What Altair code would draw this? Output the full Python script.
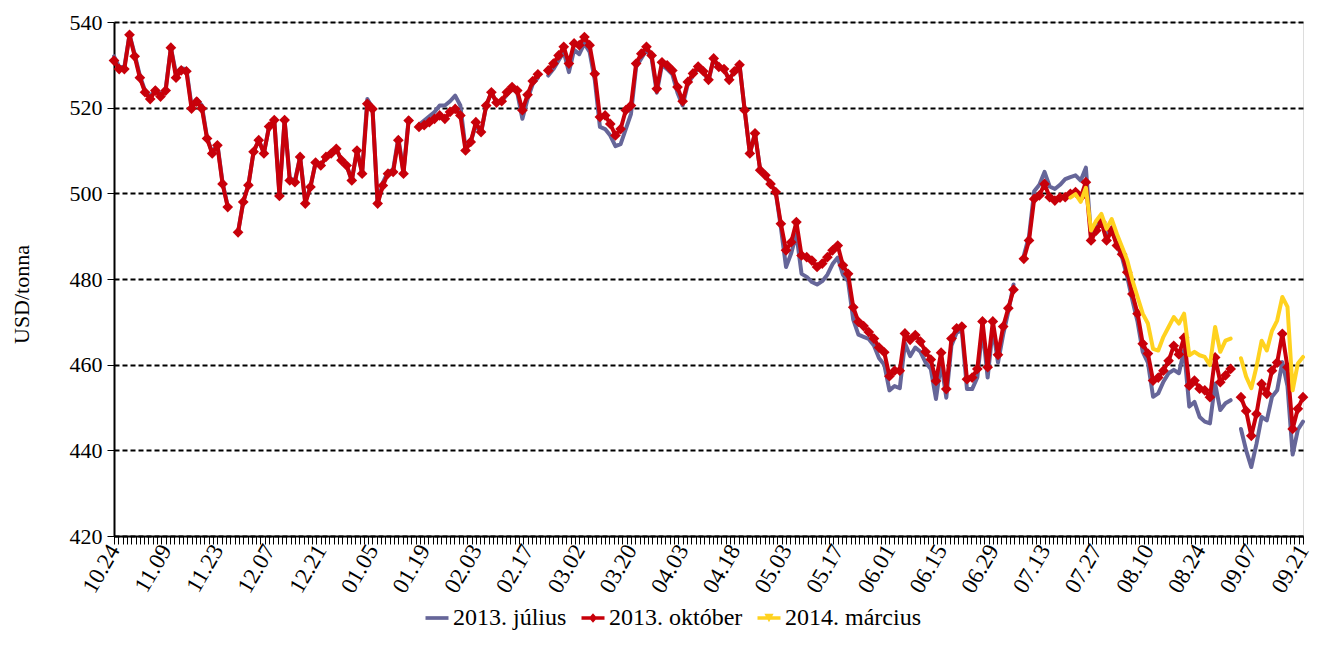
import altair as alt
import pandas as pd

tick_labels = ["10.24", "11.09", "11.23", "12.07", "12.21", "01.05", "01.19", "02.03",
               "02.17", "03.02", "03.20", "04.03", "04.18", "05.03", "05.17", "06.01",
               "06.15", "06.29", "07.13", "07.27", "08.10", "08.24", "09.07", "09.21"]
series_names = ["2013. július", "2013. október", "2014. március"]
series_colors = ["#666699", "#C8000A", "#FFD21F"]

julius = [
    532, 529.5, 529.5, 537, 532.5, 527.5, 524, 522.5, 524.5, 523,
    524.5, 534, 528, 529.2, 529, 520.5, 522, 520.5, 513, 509.5,
    511.5, 502.5, 497, None, 491, 498, 502, 509.7, 512.4, 509.5,
    515.6, 517.1, 500, 517.1, 503.5, 503, 508.5, 498, 501.5, 507.2,
    506.5, 508.5, 509.3, 510.4, 507.7, 506.5, 503, 510, 505, 522,
    520, 497.6, 502.5, 505, 505.5, 513, 505, 517.5, None, 516,
    517, 518, 519, 520.5, 520.5, 521.5, 522.8, 520.5, 510.5, 512,
    516, 514, 520.5, 523.6, 521.2, 521.5, 523, 524.5, 523.5, 517.4,
    522, 525.5, 527, None, 527.5, 529, 531, 533, 528.3, 533.5,
    532.5, 535, 533, 526.5, 515.5, 515, 513.5, 511, 511.5, 515,
    518.5, 529.5, 531.5, 533.5, 531.5, 523.5, 530, 529, 527.8, 523.5,
    520.5, 525.5, 527.5, 529.3, 528.3, 526.3, 531.3, 529.5, 529, 526.5,
    528.5, 530, 519.4, 509.3, 514, 505.4, 504.2, 502.2, 500.3, 492,
    482.8, 486, 490.5, 481.2, 480.5, 479.3, 478.7, 479.5, 481, 483.5,
    485, 481, 479.5, 470.5, 467, 466.5, 466, 464.5, 461.5, 460,
    454, 455, 454.5, 465, 462, 464, 463, 460.5, 459, 452,
    460.5, 452.3, 464.5, 467.5, 468, 454.3, 454.3, 457, 468.5, 457,
    468.5, 460.5, 467, 472.4, 478.7, None, 485.5, 490, 500.5, 502,
    505, 501.6, 501, 502, 503.3, 503.8, 504.2, 503, 506, 490,
    492, 494, 489.5, 492, 488, 485, 480.5, 475, 470, 463,
    460.5, 452.5, 453.3, 456, 458, 458.8, 458, 463.4, 450.2, 451.3,
    447.8, 446.7, 446.3, 455.6, 449.4, 451, 451.7, None, 445, 440,
    436.1, 441.5, 447.8, 447, 452.5, 454, 460.6, 455, 439, 444.8,
    446.7,
]

oktober = [
    531, 529, 529, 537, 532, 527, 523.6, 522, 524, 522.6,
    524, 534, 527, 528.7, 528.5, 519.8, 521.4, 519.8, 512.8, 509.3,
    511.2, 502.2, 496.8, None, 490.9, 498, 501.9, 509.7, 512.4, 509.3,
    515.6, 517.1, 499.4, 517.1, 503, 502.6, 508.5, 497.6, 501.5, 507.2,
    506.5, 508.5, 509.3, 510.4, 507.7, 506.5, 503, 510, 504.6, 520.9,
    519.7, 497.6, 501.8, 504.6, 505, 512.4, 504.6, 517, None, 515.5,
    515.9, 516.6, 517.4, 518.2, 517.4, 519, 519.7, 518.2, 510, 512,
    516.6, 514.3, 520.5, 523.6, 521.2, 521.5, 523.6, 524.8, 524, 519.4,
    523, 526.2, 527.8, None, 528.7, 530.3, 532.2, 534.2, 530.3, 535,
    534.6, 536.5, 534.6, 527.9, 517.8, 518.2, 516.2, 513.5, 515, 519.4,
    520.5, 530.3, 532.6, 534.2, 532.2, 524.4, 530.6, 529.9, 528.7, 524.8,
    521.5, 526, 528, 529.6, 528.5, 526.5, 531.5, 529.5, 529, 526.5,
    528.5, 530, 519.4, 509.3, 514, 505.4, 504.2, 502.2, 500.3, 492.9,
    486.7, 488.6, 493.3, 485.5, 485.1, 484.3, 482.8, 483.6, 485.1, 486.7,
    487.8, 483.2, 481.2, 473.4, 470, 469, 467.6, 466.1, 464, 462.9,
    457.3, 458.6, 458.6, 467.3, 465.8, 466.9, 465.4, 463, 461.2, 456.2,
    462.8, 454.3, 466.1, 468.5, 468.9, 456.6, 457, 459, 470.1, 459.4,
    470.1, 462.3, 468.9, 473.2, 477.5, None, 484.7, 489, 498.7, 499.5,
    502.2, 499.1, 498.3, 499, 499.1, 499.9, 500.3, 499.1, 502.6, 489,
    491.3, 493.3, 489, 491.3, 487.8, 485.8, 481.6, 476.5, 471.9, 464.9,
    462.6, 456.3, 457, 458.6, 460.9, 464.4, 462.4, 466.3, 455.1, 456.3,
    454.4, 454, 452.4, 461.7, 455.9, 457.5, 459, None, 452.4, 449.2,
    443.4, 448.5, 455.5, 453.2, 458.6, 460.5, 467.2, 459.4, 445, 449.7,
    452.4,
]

marcius = [None] * 185 + [
    499, 499.8, 498, 501.3, 491.3,
    493.6, 495.2, 491.7, 494, 490.5, 487.5, 484.4, 479.7, 475.8, 471.9,
    469.6, 463.7, 463.3, 466.5, 468.8, 471.1, 469.6, 471.9, 462.2, 463,
    462.2, 461.8, 459.9, 468.8, 463, 465.6, 466.1, None, 461.5, 457.2,
    454.5, 459.5, 465.6, 463.3, 467.9, 470.3, 475.8, 473.5, 454, 460.3,
    461.8,
]

N = len(oktober)
assert len(julius) == N and len(marcius) == N

rows = []
for name, vals in zip(series_names, [julius, oktober, marcius]):
    seg = 0
    gap = True
    for i, v in enumerate(vals):
        if v is None:
            gap = True
            continue
        if gap:
            seg += 1
            gap = False
        rows.append({"idx": i, "value": v, "series": name, "seg": f"{name}-{seg}"})
df = pd.DataFrame(rows)

FONT = "Liberation Serif"
label_js = "[" + ",".join("'" + s + "'" for s in tick_labels) + "]"
# minor tick marks: 12 per labelled interval of 10 data points
tick_values = [k * 10 / 12 for k in range((N - 1) * 12 // 10 + 1)]

x_enc = alt.X(
    "idx:Q",
    scale=alt.Scale(domain=[0, N - 1], nice=False, zero=False),
    axis=alt.Axis(
        values=tick_values,
        labelExpr=(f"round(datum.value * 1.2) % 12 === 0 ? "
                   f"{label_js}[round(datum.value * 1.2) / 12] : ''"),
        labelAngle=-60, labelAlign="right", labelBaseline="middle",
        labelFont=FONT, labelFontSize=23, labelColor="black",
        labelOverlap=False, labelFlush=False, labelPadding=2,
        tickSize=8, tickColor="black", tickWidth=1,
        domainColor="black", domainWidth=2, grid=False,
    ),
    title=None,
)
y_enc = alt.Y(
    "value:Q",
    scale=alt.Scale(domain=[420, 540], nice=False, zero=False),
    axis=alt.Axis(
        values=[420, 440, 460, 480, 500, 520, 540],
        grid=True, gridColor="black", gridDash=[5, 3], gridWidth=2,
        domainColor="black", domainWidth=2,
        tickColor="black", tickSize=7, tickWidth=1,
        labelFont=FONT, labelFontSize=22, labelColor="black", labelPadding=5,
        labelFlush=False,
        titleFont=FONT, titleFontSize=22, titleFontWeight="normal", titleColor="black",
        titleX=-93, titleY=272, titleBaseline="middle", titleAlign="center",
    ),
    title="USD/tonna",
)

base = alt.Chart(df)


def line_layer(name, color):
    return base.transform_filter(alt.datum.series == name).mark_line(
        color=color, strokeWidth=4, strokeJoin="round", strokeCap="round"
    ).encode(x=x_enc, y=y_enc, detail="seg:N")


purple_line = line_layer(series_names[0], series_colors[0])
red_line = line_layer(series_names[1], series_colors[1])
yellow_line = line_layer(series_names[2], series_colors[2])

red_points = base.transform_filter(alt.datum.series == series_names[1]).mark_point(
    shape="diamond", filled=True, size=115, color=series_colors[1], opacity=1
).encode(x=x_enc, y=y_enc)

bar = "M-1,-0.16H1V0.16H-1Z"
legend_shapes = [
    bar,
    bar + "M0,-0.42L0.36,0L0,0.42L-0.36,0Z",
    bar + "M-0.4,-0.36H0.4L0,0.36Z",
]
legend_df = pd.DataFrame({"series": series_names, "idx": [-60] * 3, "value": [480] * 3})
leg = alt.Legend(
    orient="none", legendX=311, legendY=584, direction="horizontal", title=None,
    labelFont=FONT, labelFontSize=24, labelColor="black", labelOffset=4,
    symbolSize=529, symbolStrokeWidth=0, columnPadding=14,
)
legend_layer = alt.Chart(legend_df).mark_point(
    filled=True, size=529, opacity=1, clip=True
).encode(
    x=x_enc, y=y_enc,
    color=alt.Color("series:N", scale=alt.Scale(domain=series_names, range=series_colors), legend=leg),
    shape=alt.Shape("series:N", scale=alt.Scale(domain=series_names, range=legend_shapes), legend=leg),
)

chart = alt.layer(
    purple_line, red_line, red_points, yellow_line, legend_layer
).properties(
    width=1189, height=514,
    padding={"left": 2, "top": 3, "right": 0, "bottom": 0},
).configure_view(stroke=None).configure(font=FONT)

chart.save("out.html", embed_options={"renderer": "svg", "actions": False})
